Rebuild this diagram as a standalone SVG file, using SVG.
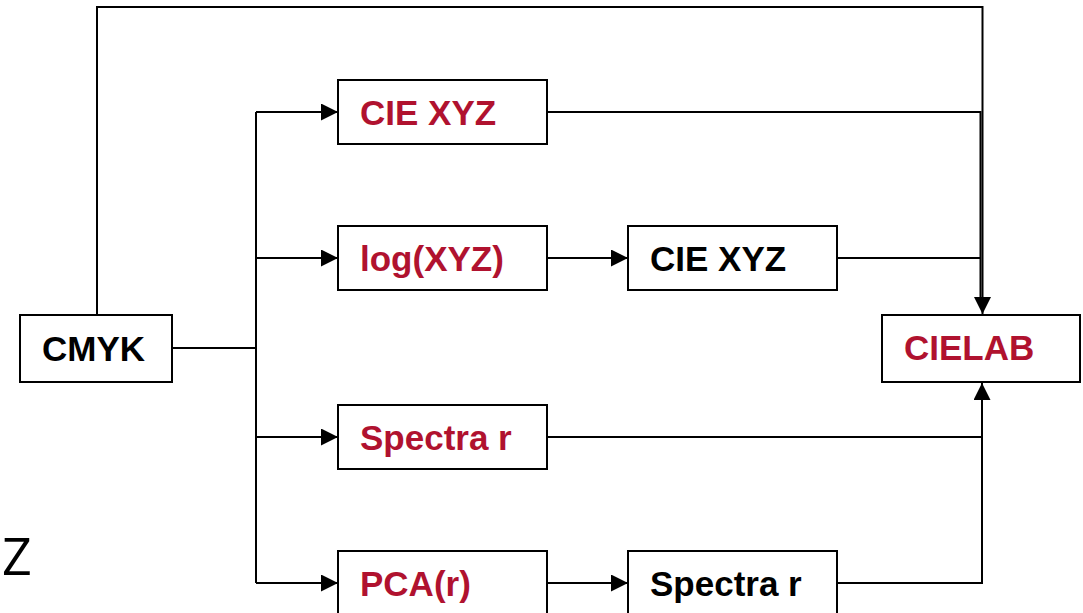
<svg xmlns="http://www.w3.org/2000/svg" width="1083" height="613" viewBox="0 0 1083 613">
<defs>
<marker id="ah" markerWidth="17" markerHeight="17" refX="17" refY="8.5" orient="auto" markerUnits="userSpaceOnUse">
<path d="M0,0 L17,8.5 L0,17 z" fill="#000"/>
</marker>
<style>
.box{fill:#fff;stroke:#000;stroke-width:2}
.t{font-family:"Liberation Sans",Arial,sans-serif;font-weight:bold;font-size:35px}
.red{fill:#b0122f}
.blk{fill:#000}
.c{fill:none;stroke:#000;stroke-width:2}
</style>
</defs>
<g id="connectors">
<path class="c" d="M97,315 V7 H982.5 V314" marker-end="url(#ah)"/>
<path class="c" d="M172,348 H256"/>
<path class="c" d="M256,112 V583"/>
<path class="c" d="M256,112 H338" marker-end="url(#ah)"/>
<path class="c" d="M256,258 H338" marker-end="url(#ah)"/>
<path class="c" d="M256,437 H338" marker-end="url(#ah)"/>
<path class="c" d="M256,583 H338" marker-end="url(#ah)"/>
<path class="c" d="M547,258 H628" marker-end="url(#ah)"/>
<path class="c" d="M547,583 H628" marker-end="url(#ah)"/>
<path class="c" d="M547,112 H980.5 V300"/>
<path class="c" d="M837,258 H980.5"/>
<path class="c" d="M547,437 H982 V396"/>
<path class="c" d="M837,583 H982 V383" marker-end="url(#ah)"/>
</g>
<g id="n-cmyk"><rect class="box" x="20" y="315" width="152" height="67"/><text class="t blk" x="42" y="361">CMYK</text></g>
<g id="n-ciexyz1"><rect class="box" x="338" y="80" width="209" height="64"/><text class="t red" x="360" y="125">CIE XYZ</text></g>
<g id="n-logxyz"><rect class="box" x="338" y="226" width="209" height="64"/><text class="t red" x="360" y="271">log(XYZ)</text></g>
<g id="n-ciexyz2"><rect class="box" x="628" y="226" width="209" height="64"/><text class="t blk" x="650" y="271">CIE XYZ</text></g>
<g id="n-spectra1"><rect class="box" x="338" y="405" width="209" height="64"/><text class="t red" x="360" y="450">Spectra r</text></g>
<g id="n-pca"><rect class="box" x="338" y="551" width="209" height="64"/><text class="t red" x="360" y="596">PCA(r)</text></g>
<g id="n-spectra2"><rect class="box" x="628" y="551" width="209" height="64"/><text class="t blk" x="650" y="596">Spectra r</text></g>
<g id="n-cielab"><rect class="box" x="882" y="315" width="198" height="67"/><text class="t red" x="904" y="360">CIELAB</text></g>
<text x="2" y="575" font-family="'Open Sans','DejaVu Sans',sans-serif" font-size="52" fill="#000">Z</text>
</svg>
